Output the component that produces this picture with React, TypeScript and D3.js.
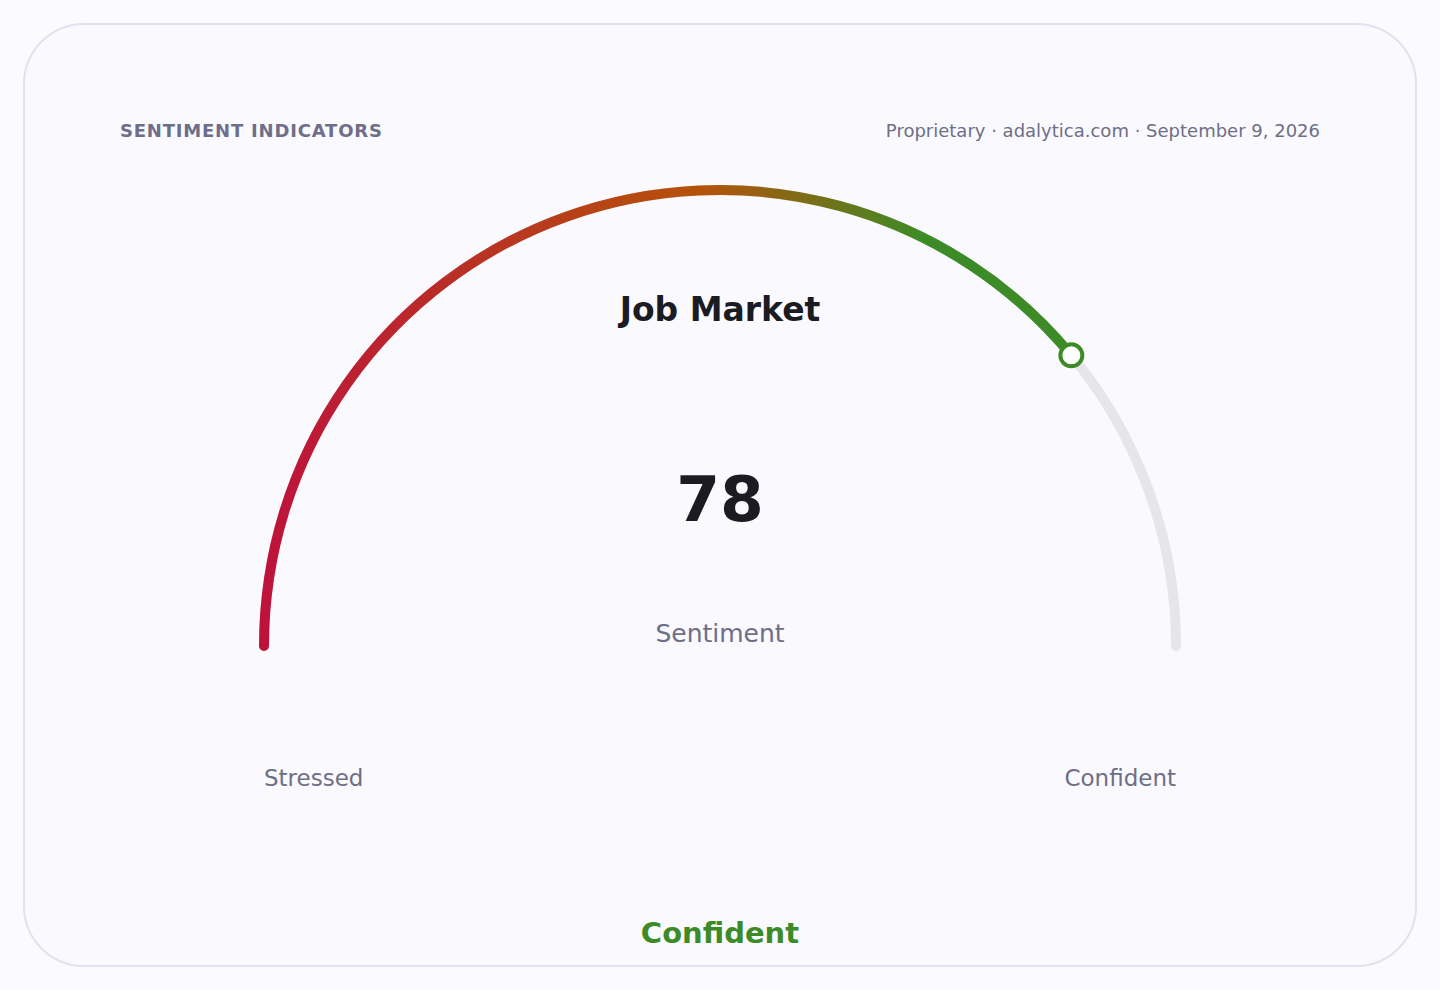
import * as React from 'react';
import * as d3 from 'd3';

// gauge data
const indicator = ["Job Market"];
const values = [78];
const domain = [0, 100];
const endLabels = ["Stressed", "Confident"];
const bandLabels = ["Stressed", "Neutral", "Confident"];
const bandEdges = [0, 40, 60, 100];
const headerLabels = ["SENTIMENT INDICATORS", "Proprietary · adalytica.com · September 9, 2026"];
const subLabel = ["Sentiment"];
const gradStops = [
    { at: 0, color: "#be123c" },
    { at: 0.48, color: "#b45309" },
    { at: 0.72, color: "#3d8b27" },
    { at: 1, color: "#3d8b27" },
];

const W = 1440;
const H = 990;
const FONT = "'DejaVu Sans', sans-serif";

export default function App() {
    const cx = 720;
    const cy = 646;
    const r = 456;
    const thick = 10;
    const value = values[0];

    // angle in screen convention: PI = left end, 2*PI = right end (through the top)
    const angle = d3.scaleLinear().domain(domain).range([Math.PI, 2 * Math.PI]);

    const arcPath = (v0: number, v1: number) => {
        const p = d3.path();
        p.arc(cx, cy, r, angle(v0), angle(v1), false);
        return p.toString();
    };

    const track = arcPath(domain[0], domain[1]);
    const filled = arcPath(domain[0], value);

    const a = angle(value);
    const dotX = cx + r * Math.cos(a);
    const dotY = cy + r * Math.sin(a);

    const band = d3.scaleThreshold<number, string>()
        .domain(bandEdges.slice(1, -1))
        .range(bandLabels);

    return (
        <svg width={W} height={H} style={{ position: "fixed", left: 0, top: 0, background: "#fbfbff" }}>
            <defs>
                <linearGradient id="gaugeGrad" gradientUnits="userSpaceOnUse"
                    x1={cx - r - thick / 2} y1={0} x2={cx + r + thick / 2} y2={0}>
                    {gradStops.map((s, i) => (
                        <stop key={i} offset={s.at} stopColor={s.color} />
                    ))}
                </linearGradient>
            </defs>
            <rect x={24} y={24} width={1392} height={942} rx={60} ry={60}
                fill="#f9f9fe" stroke="#e2e2ee" strokeWidth={2} />

            <text x={120} y={137} fontFamily={FONT} fontSize={18} fontWeight="bold"
                fill="#6e6e8a" letterSpacing={0.8}>{headerLabels[0]}</text>
            <text x={1320} y={137} fontFamily={FONT} fontSize={18} textAnchor="end"
                fill="#6e6e86">{headerLabels[1]}</text>

            <path d={track} fill="none" stroke="#e6e6ea" strokeWidth={thick} strokeLinecap="round" />
            <path d={filled} fill="none" stroke="url(#gaugeGrad)" strokeWidth={thick} strokeLinecap="round" />
            <circle cx={dotX} cy={dotY} r={11} fill="#ffffff" stroke="#3d8b27" strokeWidth={4} />

            <text x={cx} y={321} fontFamily={FONT} fontSize={33} fontWeight="bold" textAnchor="middle"
                fill="#1b1b22">{indicator[0]}</text>
            <text x={cx} y={521} fontFamily={FONT} fontSize={63} fontWeight="bold" textAnchor="middle"
                fill="#1b1b22">{value}</text>
            <text x={cx} y={642} fontFamily={FONT} fontSize={25} textAnchor="middle"
                fill="#6e6e88">{subLabel[0]}</text>

            <text x={cx - r} y={786} fontFamily={FONT} fontSize={23} fill="#6e6e86">{endLabels[0]}</text>
            <text x={cx + r} y={786} fontFamily={FONT} fontSize={23} textAnchor="end" fill="#6e6e86">{endLabels[1]}</text>

            <text x={cx} y={943} fontFamily={FONT} fontSize={29} fontWeight="bold" textAnchor="middle"
                fill="#3d8b27">{band(value)}</text>
        </svg>
    );
}
